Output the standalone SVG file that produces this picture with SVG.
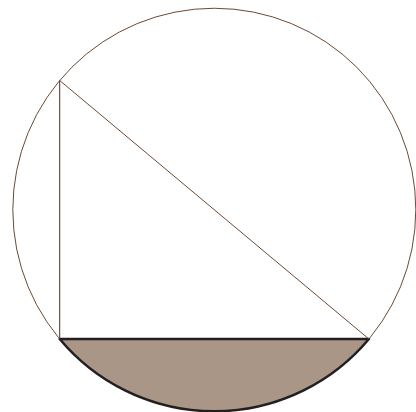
<svg xmlns="http://www.w3.org/2000/svg" width="416" height="412" viewBox="0 0 416 412">
<style>
.thin{fill:none;stroke:#6b4a33;stroke-width:1}
.leg{fill:none;stroke:#4a3020;stroke-width:1}
.seg{fill:#a99686;stroke:#231f20;stroke-width:2.5;stroke-linejoin:round}
</style>
<rect width="416" height="412" fill="#fff"/>
<g id="circle"><circle class="thin" cx="214.3" cy="209.75" r="201.5"/></g>
<g id="segment"><path class="seg" d="M59.7,339 A201.5,201.5 0 0 0 368.9,339 Z"/></g>
<g id="connectors">
<line class="leg" x1="59.7" y1="80.5" x2="59.7" y2="339"/>
<line class="thin" x1="59.7" y1="80.5" x2="368.9" y2="339"/>
</g>
</svg>
